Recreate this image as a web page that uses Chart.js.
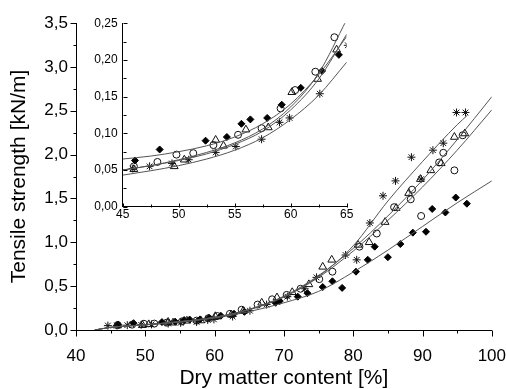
<!DOCTYPE html>
<html>
<head>
<meta charset="utf-8">
<script src="https://cdn.jsdelivr.net/npm/chart.js@4.4.1/dist/chart.umd.min.js"></script>
<style>
  body { margin: 0; background: #fff; }
  #quadro { position: relative; width: 506px; height: 389px; }
  #quadro canvas { position: absolute; left: 0; top: 0; }
</style>
</head>
<body>
<div id="quadro">
  <canvas id="graficoPrincipal" width="506" height="389"></canvas>
  <canvas id="graficoDetalhe" width="506" height="389"></canvas>
</div>
<script>
// Pontos medidos: teor de matéria seca [%] e resistência à tração [kN/m]
const circuloX = [46.0, 48.1, 49.8, 51.3, 53.1, 55.3, 57.4, 59.1, 60.4, 62.2, 63.9, 66.2, 68.3, 70.4, 72.4, 75.1, 77.0, 80.9, 83.4, 85.9, 88.3, 88.5, 89.8, 92.4, 93.0, 94.6, 95.8];
const circuloY = [0.055, 0.061, 0.071, 0.073, 0.084, 0.098, 0.107, 0.134, 0.159, 0.184, 0.231, 0.29, 0.35, 0.40, 0.47, 0.58, 0.665, 0.95, 1.10, 1.40, 1.49, 1.60, 1.30, 1.91, 2.02, 1.82, 2.22];

const trianguloX = [46.0, 49.6, 50.5, 53.3, 54.0, 56.0, 58.0, 60.1, 62.4, 64.1, 66.8, 69.0, 71.2, 73.6, 75.6, 76.9, 80.7, 82.3, 84.6, 86.2, 88.0, 89.7, 91.2, 92.7, 94.6, 96.1];
const trianguloY = [0.051, 0.055, 0.064, 0.091, 0.083, 0.105, 0.108, 0.156, 0.174, 0.214, 0.31, 0.37, 0.43, 0.52, 0.72, 0.80, 0.97, 1.00, 1.23, 1.39, 1.56, 1.72, 1.82, 1.90, 2.20, 2.24];

const losangoX = [46.1, 48.3, 52.4, 54.3, 55.6, 56.4, 57.9, 59.2, 60.9, 62.8, 64.3, 68.8, 69.4, 72.0, 73.4, 75.6, 77.0, 78.4, 80.4, 82.1, 83.1, 85.0, 86.8, 88.6, 90.5, 91.4, 93.3, 94.8, 96.4];
const losangoY = [0.063, 0.078, 0.090, 0.095, 0.113, 0.119, 0.121, 0.139, 0.162, 0.185, 0.207, 0.31, 0.33, 0.38, 0.42, 0.49, 0.555, 0.48, 0.665, 0.80, 0.95, 0.83, 0.98, 1.11, 1.12, 1.38, 1.34, 1.51, 1.44];

const asteriscoX = [44.6, 45.9, 47.4, 49.4, 50.9, 53.3, 55.1, 57.4, 59.0, 59.9, 62.6, 65.1, 67.5, 70.5, 73.0, 74.7, 78.9, 80.5, 82.4, 84.3, 86.1, 88.4, 89.8, 91.5, 93.0, 94.9, 96.2];
const asteriscoY = [0.05, 0.052, 0.055, 0.059, 0.064, 0.074, 0.082, 0.092, 0.115, 0.121, 0.154, 0.22, 0.29, 0.38, 0.47, 0.60, 0.855, 0.80, 1.22, 1.53, 1.70, 1.97, 1.72, 2.05, 2.13, 2.48, 2.48];

// Curvas ajustadas do gráfico principal
const ajusteX = [42.7, 45, 50, 55, 60, 65, 70, 75, 80, 85, 90, 95, 100];
const ajusteCirculo = [0, 0.03, 0.06, 0.095, 0.145, 0.23, 0.375, 0.60, 0.90, 1.25, 1.63, 2.05, 2.51];
const ajusteTriangulo = [0, 0.03, 0.06, 0.095, 0.145, 0.235, 0.385, 0.62, 0.93, 1.30, 1.71, 2.17, 2.66];
const ajusteLosango = [0, 0.03, 0.058, 0.09, 0.135, 0.21, 0.31, 0.44, 0.66, 0.91, 1.18, 1.45, 1.70];
const ajusteAsteriscoX = [42.7, 45, 50, 55, 60, 65, 70, 75, 80, 85, 90, 95, 96.5];
const ajusteAsterisco = [0, 0.03, 0.06, 0.095, 0.145, 0.235, 0.38, 0.61, 0.96, 1.47, 1.92, 2.34, 2.45];

// Curvas ajustadas do detalhe (45 a 65 %)
const detalheX = [45, 47.5, 50, 52.5, 55, 57.5, 60, 62.5, 65];
const detalheCirculo = [0.050, 0.056, 0.064, 0.074, 0.087, 0.106, 0.136, 0.182, 0.255];
const detalheTriangulo = [0.050, 0.056, 0.063, 0.072, 0.085, 0.103, 0.132, 0.174, 0.235];
const detalheLosango = [0.065, 0.069, 0.075, 0.083, 0.095, 0.113, 0.140, 0.180, 0.232];
const detalheAsterisco = [0.043, 0.049, 0.056, 0.065, 0.077, 0.094, 0.119, 0.152, 0.197];

// Rótulos dos eixos
const tituloX = 'Dry matter content [%]';
const tituloY = 'Tensile strength [kN/m]';

const pontos = (xs, ys) => xs.map((x, i) => ({ x: x, y: ys[i] }));
const virgula = (v, casas) => v.toFixed(casas).replace('.', ',');
const ehMultiplo = (v, passo) => Math.abs(v / passo - Math.round(v / passo)) < 1e-6;

// Marcas dos eixos (maiores com rótulo, menores sem)
const marcasEixo = {
    id: 'marcasEixo',
    afterDraw(chart, args, opts) {
        const { ctx, chartArea } = chart;
        ctx.save();
        ctx.strokeStyle = '#000';
        ctx.lineWidth = 1;
        ['x', 'y'].forEach(id => {
            const escala = chart.scales[id];
            escala.ticks.forEach(t => {
                const tam = t.label !== '' ? opts.maior : opts.menor;
                const p = Math.round(escala.getPixelForValue(t.value)) + 0.5;
                ctx.beginPath();
                if (id === 'x') {
                    const base = Math.round(chartArea.bottom) + 0.5;
                    ctx.moveTo(p, base);
                    ctx.lineTo(p, base + opts.sentido * tam);
                } else {
                    const base = Math.round(chartArea.left) + 0.5;
                    ctx.moveTo(base, p);
                    ctx.lineTo(base - opts.sentido * tam, p);
                }
                ctx.stroke();
            });
        });
        ctx.restore();
    }
};

function conjuntos(curvas) {
    const marcador = { showLine: false, borderWidth: 1, pointBorderWidth: 1, pointBorderColor: '#111' };
    const linha = { showLine: true, pointRadius: 0, borderColor: '#555', borderWidth: 1, cubicInterpolationMode: 'monotone' };
    return [
        ...curvas.map(c => ({ ...linha, data: c })),
        { ...marcador, data: pontos(circuloX, circuloY), pointStyle: 'circle', pointRadius: 3.5, pointBackgroundColor: 'rgba(0,0,0,0)' },
        { ...marcador, data: pontos(trianguloX, trianguloY), pointStyle: 'triangle', pointRadius: 4.5, pointBackgroundColor: 'rgba(0,0,0,0)' },
        { ...marcador, data: pontos(asteriscoX, asteriscoY), pointStyle: 'star', pointRadius: 4, pointBackgroundColor: 'rgba(0,0,0,0)' },
        { ...marcador, data: pontos(losangoX, losangoY), pointStyle: 'rectRot', pointRadius: 3.5, pointBackgroundColor: '#000', pointBorderColor: '#000' }
    ];
}

const fonte = '"Liberation Sans", Arial, sans-serif';

// Gráfico principal
new Chart(document.getElementById('graficoPrincipal'), {
    type: 'scatter',
    data: {
        datasets: conjuntos([
            pontos(ajusteX, ajusteCirculo),
            pontos(ajusteX, ajusteTriangulo),
            pontos(ajusteX, ajusteLosango),
            pontos(ajusteAsteriscoX, ajusteAsterisco)
        ])
    },
    plugins: [marcasEixo],
    options: {
        responsive: false,
        animation: false,
        events: [],
        layout: { padding: { left: 0, top: 23, right: 14, bottom: 0 } },
        scales: {
            x: {
                type: 'linear',
                min: 40,
                max: 100,
                afterFit: s => { s.height = 59; },
                grid: { display: false, drawTicks: false },
                border: { display: true, color: '#000', width: 1 },
                ticks: {
                    stepSize: 5,
                    autoSkip: false,
                    maxRotation: 0,
                    padding: 0,
                    color: '#000',
                    // linha alta para descer os números sem alargar o gráfico
                    font: { family: fonte, size: 17, lineHeight: 3.12 },
                    callback: v => ehMultiplo(v, 10) ? String(v) : ''
                },
                title: {
                    display: true,
                    text: tituloX,
                    color: '#000',
                    font: { family: fonte, size: 21, lineHeight: 1 },
                    padding: 0
                }
            },
            y: {
                type: 'linear',
                min: 0,
                max: 3.5,
                afterFit: s => { s.width = 76; },
                grid: { display: false, drawTicks: false },
                border: { display: true, color: '#000', width: 1 },
                ticks: {
                    stepSize: 0.25,
                    autoSkip: false,
                    padding: 8,
                    color: '#000',
                    font: { family: fonte, size: 17 },
                    callback: v => ehMultiplo(v, 0.5) ? virgula(v, 1) : ''
                },
                title: {
                    display: true,
                    text: tituloY,
                    color: '#000',
                    font: { family: fonte, size: 21 },
                    padding: { top: 7, bottom: 0 }
                }
            }
        },
        plugins: {
            legend: { display: false },
            tooltip: { enabled: false },
            marcasEixo: { maior: 6, menor: 3, sentido: 1 }
        }
    }
});

// Detalhe da faixa de 45 a 65 %
new Chart(document.getElementById('graficoDetalhe'), {
    type: 'scatter',
    data: {
        datasets: conjuntos([
            pontos(detalheX, detalheCirculo),
            pontos(detalheX, detalheTriangulo),
            pontos(detalheX, detalheLosango),
            pontos(detalheX, detalheAsterisco)
        ])
    },
    plugins: [marcasEixo],
    options: {
        responsive: false,
        animation: false,
        events: [],
        layout: { padding: { left: 80, top: 23.3, right: 159.3, bottom: 150 } },
        scales: {
            x: {
                type: 'linear',
                min: 45,
                max: 65,
                afterFit: s => { s.height = 32.3; },
                grid: { display: false, drawTicks: false },
                border: { display: true, color: '#000', width: 1 },
                ticks: {
                    stepSize: 2.5,
                    autoSkip: false,
                    maxRotation: 0,
                    padding: 1,
                    color: '#000',
                    font: { family: fonte, size: 12 },
                    callback: v => ehMultiplo(v, 5) ? String(v) : ''
                }
            },
            y: {
                type: 'linear',
                min: 0,
                max: 0.25,
                afterFit: s => { s.width = 42.7; },
                grid: { display: false, drawTicks: false },
                border: { display: true, color: '#000', width: 1 },
                ticks: {
                    stepSize: 0.025,
                    autoSkip: false,
                    padding: 5,
                    color: '#000',
                    font: { family: fonte, size: 12 },
                    callback: v => ehMultiplo(v, 0.05) ? virgula(v, 2) : ''
                }
            }
        },
        plugins: {
            legend: { display: false },
            tooltip: { enabled: false },
            marcasEixo: { maior: 4, menor: 3, sentido: -1 }
        }
    }
});
</script>
</body>
</html>
